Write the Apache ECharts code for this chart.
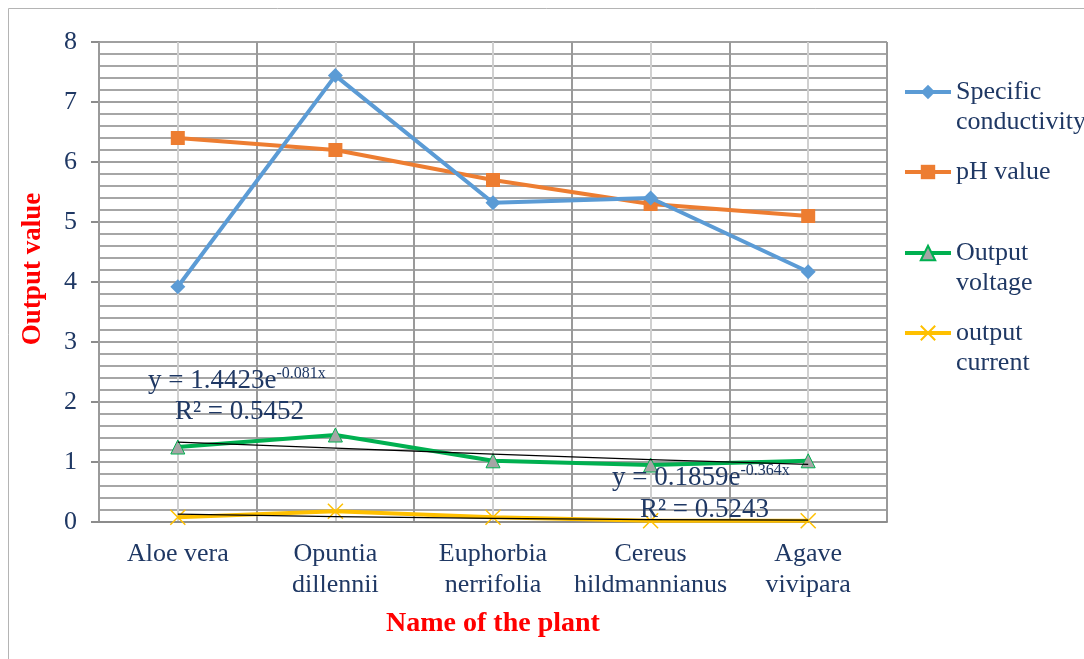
<!DOCTYPE html>
<html><head><meta charset="utf-8">
<script src="https://cdn.jsdelivr.net/npm/echarts@6/dist/echarts.min.js"></script>
<style>html,body{margin:0;padding:0;background:#fff}#c{width:1084px;height:659px}</style>
</head><body><div id="c"></div>
<script>
const categories = ['Aloe vera', 'Opuntia\ndillennii', 'Euphorbia\nnerrifolia', 'Cereus\nhildmannianus', 'Agave\nvivipara'];
const specificConductivity = [3.92, 7.44, 5.32, 5.40, 4.17];
const phValue = [6.40, 6.20, 5.70, 5.30, 5.10];
const outputVoltage = [1.25, 1.45, 1.02, 0.95, 1.02];
const outputCurrent = [0.08, 0.18, 0.08, 0.02, 0.02];
const voltageTrend = [1.33, 1.23, 1.13, 1.04, 0.96];
const currentTrend = [0.13, 0.09, 0.06, 0.04, 0.03];
const yTicks = [0, 1, 2, 3, 4, 5, 6, 7, 8];

const FONT = '"Liberation Serif", "Times New Roman", serif';
const TXT = '#1f3864';
const chart = echarts.init(document.getElementById('c'));

function legendTwo(name, top) {
  return {
    data: [name], left: 898, top: top,
    itemWidth: 46, itemHeight: 18,
    lineStyle: { width: 4 },
    formatter: n => '\n' + n.replace(' ', '\n'),
    textStyle: { fontFamily: FONT, fontSize: 26, color: TXT, lineHeight: 30 }
  };
}
function legendOne(name, top) {
  return {
    data: [name], left: 898, top: top, itemWidth: 46, itemHeight: 18,
    lineStyle: { width: 4 },
    textStyle: { fontFamily: FONT, fontSize: 26, color: TXT, lineHeight: 30 }
  };
}
const eqRich = {
  a: { fontFamily: FONT, fontSize: 27, fill: TXT },
  b: { fontFamily: FONT, fontSize: 16, fill: TXT, padding: [0, 0, 14, 0] }
};

chart.setOption({
  animation: false,
  backgroundColor: '#fff',
  grid: { left: 99, right: 197, top: 42, bottom: 137, containLabel: false },
  legend: [
    legendTwo('Specific conductivity', 42),
    legendOne('pH value', 152),
    legendTwo('Output voltage', 203),
    legendTwo('output current', 283)
  ],
  xAxis: [
    {
      type: 'category', data: categories, boundaryGap: true,
      axisLine: { show: true, lineStyle: { color: '#8c8c8c', width: 2 } },
      axisTick: { show: false },
      splitLine: { show: true, lineStyle: { color: '#9a9a9a', width: 2 } },
      axisLabel: { fontFamily: FONT, fontSize: 26, color: TXT, lineHeight: 31, margin: 17, interval: 0 },
      z: 3
    },
    {
      type: 'value', min: 0, max: 10, interval: 1, show: true, position: 'top',
      axisLine: { show: false }, axisTick: { show: false }, axisLabel: { show: false },
      splitLine: { show: true, lineStyle: { color: '#d0d0d0', width: 2 } },
      z: 1
    }
  ],
  yAxis: {
    type: 'value', min: 0, max: 8, interval: 1, splitNumber: 8,
    axisLine: { show: true, lineStyle: { color: '#8c8c8c', width: 2 } },
    axisTick: { show: true, length: 8, lineStyle: { color: '#8c8c8c', width: 2 } },
    axisLabel: { fontFamily: FONT, fontSize: 26, color: TXT, margin: 22,
      formatter: v => yTicks.includes(v) ? String(v) : '' },
    splitLine: { show: true, lineStyle: { color: '#a0a0a0', width: 2 } },
    minorTick: { show: false, splitNumber: 5 },
    minorSplitLine: { show: true, lineStyle: { color: '#a6a6a6', width: 2 } }
  },
  series: [
    {
      name: 'Specific conductivity', type: 'line', data: specificConductivity,
      symbol: 'diamond', symbolSize: 15,
      lineStyle: { color: '#5b9bd5', width: 4 }, itemStyle: { color: '#5b9bd5' }, z: 5
    },
    {
      name: 'pH value', type: 'line', data: phValue,
      symbol: 'rect', symbolSize: 14,
      lineStyle: { color: '#ed7d31', width: 4 }, itemStyle: { color: '#ed7d31' }, z: 4
    },
    {
      name: 'Output voltage', type: 'line', data: outputVoltage,
      symbol: 'triangle', symbolSize: 14,
      lineStyle: { color: '#00b050', width: 4 },
      itemStyle: { color: '#a5a5a5', borderColor: '#00b050', borderWidth: 1 }, z: 4
    },
    {
      name: 'output current', type: 'line', data: outputCurrent,
      symbol: 'path://M0,0L10,10M10,0L0,10', symbolSize: 15,
      lineStyle: { color: '#ffc000', width: 4 },
      itemStyle: { color: '#ffc000', borderColor: '#ffc000', borderWidth: 1.5 }, z: 4
    },
    {
      name: 'voltage trend', type: 'line', data: voltageTrend, symbol: 'none', silent: true,
      lineStyle: { color: '#000', width: 1.2 }, z: 6
    },
    {
      name: 'current trend', type: 'line', data: currentTrend, symbol: 'none', silent: true,
      lineStyle: { color: '#000', width: 1.2 }, z: 6
    }
  ],
  graphic: [
    { type: 'rect', shape: { x: 8.5, y: 8.5, width: 1200, height: 800 }, silent: true,
      style: { fill: 'none', stroke: '#b4b4b4', lineWidth: 1 }, z: -10 },
    { type: 'text', x: 33, y: 269, rotation: Math.PI / 2, z: 50,
      style: { text: 'Output value', fontFamily: FONT, fontSize: 27, fontWeight: 'bold', fill: '#ff0000',
        align: 'center', verticalAlign: 'middle' } },
    { type: 'text', x: 493, y: 624, z: 50,
      style: { text: 'Name of the plant', fontFamily: FONT, fontSize: 28, fontWeight: 'bold', fill: '#ff0000',
        align: 'center', verticalAlign: 'middle' } },
    { type: 'text', left: 148, top: 366, z: 50,
      style: { text: '{a|y = 1.4423e}{b|-0.081x}', rich: eqRich } },
    { type: 'text', left: 175, top: 398, z: 50,
      style: { text: 'R² = 0.5452', fontFamily: FONT, fontSize: 27, fill: TXT } },
    { type: 'text', left: 612, top: 463, z: 50,
      style: { text: '{a|y = 0.1859e}{b|-0.364x}', rich: eqRich } },
    { type: 'text', left: 640, top: 496, z: 50,
      style: { text: 'R² = 0.5243', fontFamily: FONT, fontSize: 27, fill: TXT } }
  ]
});
</script></body></html>
